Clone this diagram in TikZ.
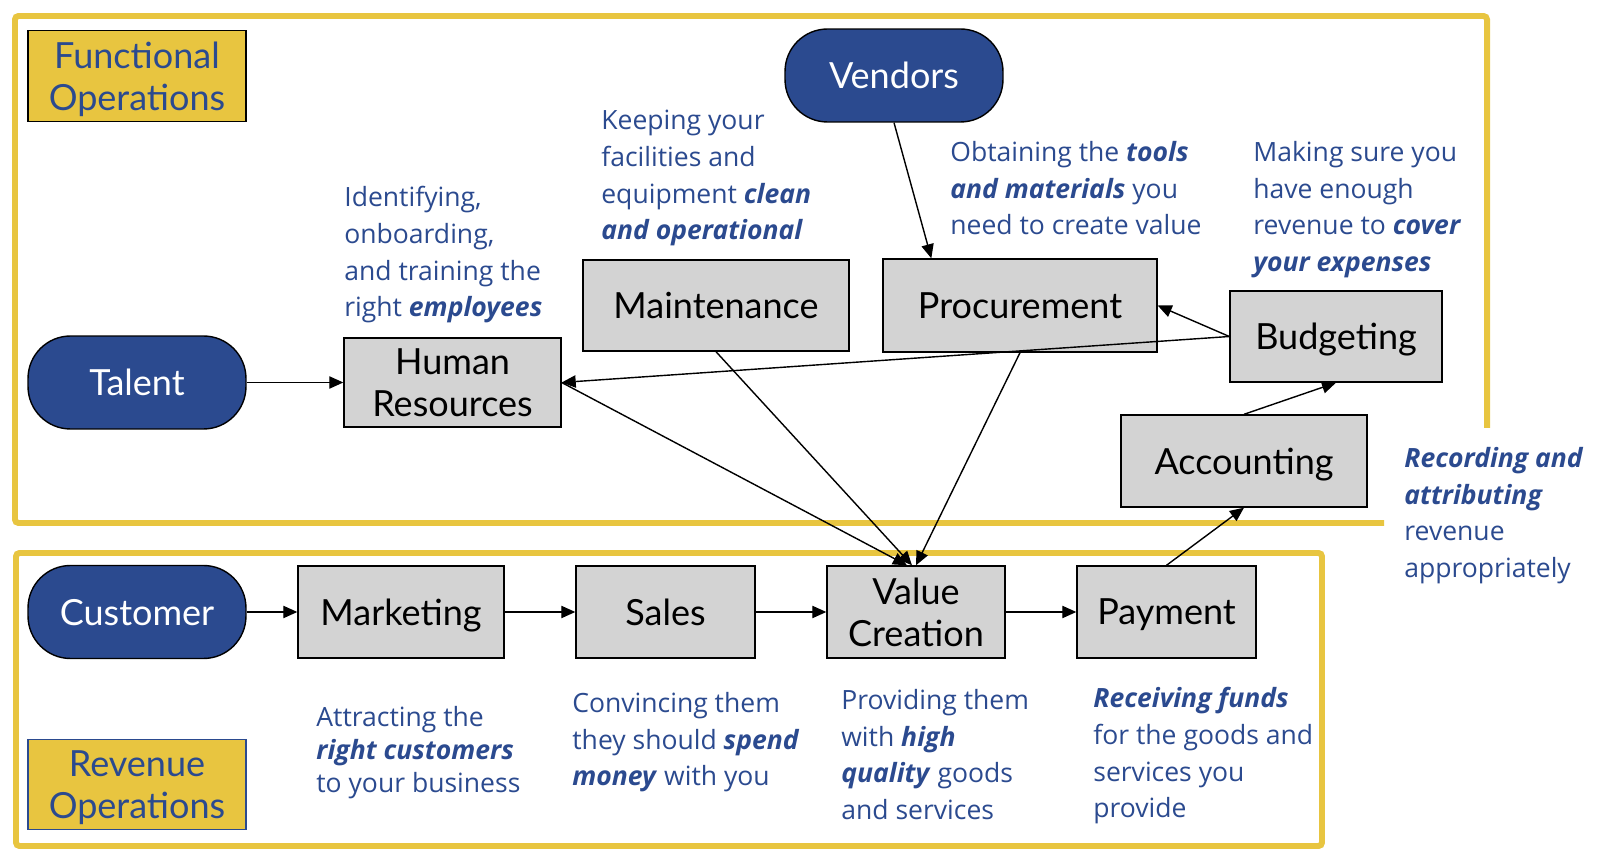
\documentclass[tikz,border=0pt]{standalone}
\usepackage{fontspec}
\setmainfont{Open Sans}
\newfontfamily\latofont{Lato}
\usepackage{tikz}
\usetikzlibrary{positioning,calc,arrows.meta}

\definecolor{opsYellow}{RGB}{232,197,64}
\definecolor{opsBlue}{RGB}{43,74,143}
\definecolor{boxGray}{RGB}{211,211,211}

\tikzset{
    procBox/.style = {draw = black, line width = 0.8pt, fill = boxGray, align = center, inner sep = 0pt,
                      text depth = 0pt, font = \latofont\fontsize{20.5}{24}\selectfont},
    pill/.style = {draw = black, line width = 0.8pt, fill = opsBlue, text = white, rounded corners = 0.85cm, inner sep = 0pt,
                   text depth = 0pt, minimum width = 4.36cm, minimum height = 1.86cm, font = \latofont\fontsize{20.5}{24}\selectfont},
    opsLabel/.style = {draw = black, line width = 0.8pt, fill = opsYellow, text = opsBlue, align = center, inner sep = 0pt,
                       text depth = 0pt, minimum width = 4.36cm, minimum height = 1.81cm, font = \latofont\fontsize{20.5}{24}\selectfont},
    opsNote/.style = {text = opsBlue, align = left, anchor = north west, inner sep = 0pt,
                      font = \fontsize{15.1}{20.9}\selectfont},
    flowArrow/.style = {line width = 0.8pt, -{Triangle[length = 8pt, width = 7pt]}},
    opsFrame/.style = {opsYellow, line width = 3.4pt, rounded corners = 2pt},
}

\begin{document}
\begin{tikzpicture}[x = 0.02cm, y = -0.02cm]

    \useasboundingbox (0, 0) rectangle (1600, 857);

    % draw yellow frames
    \draw[opsFrame] (1487, 428) -- (1487, 16) -- (15, 16) -- (15, 523) -- (1384, 523);
    \draw[opsFrame] (16, 553) rectangle (1322, 846);

    % section labels
    \node[opsLabel] (funcOps) at (137, 76) {Functional\\Operations};
    \node[opsLabel, draw = opsBlue] (revOps) at (137, 784.5) {Revenue\\Operations};

    % outside parties
    \node[pill] (vendors) at (894, 75.5) {Vendors};
    \node[pill] (talent) at (137, 382.5) {Talent};
    \node[pill] (customer) at (137, 612) {Customer};

    % functional boxes
    \node[procBox, minimum width = 4.34cm, minimum height = 1.78cm] (hr) at (452.5, 382.5) {Human\\Resources};
    \node[procBox, minimum width = 5.32cm, minimum height = 1.82cm] (maint) at (716, 305.5) {Maintenance};
    \node[procBox, minimum width = 5.48cm, minimum height = 1.86cm] (proc) at (1020, 305.5) {Procurement};
    \node[procBox, minimum width = 4.24cm, minimum height = 1.82cm] (budget) at (1336, 336.5) {Budgeting};
    \node[procBox, minimum width = 4.92cm, minimum height = 1.84cm] (acct) at (1244, 461) {Accounting};

    % revenue boxes
    \node[procBox, minimum width = 4.12cm, minimum height = 1.84cm] (mkt) at (401, 612) {Marketing};
    \node[procBox, minimum width = 3.58cm, minimum height = 1.84cm] (sales) at (665.5, 612) {Sales};
    \node[procBox, minimum width = 3.56cm, minimum height = 1.84cm] (valCre) at (916, 612) {Value\\Creation};
    \node[procBox, minimum width = 3.58cm, minimum height = 1.84cm] (pay) at (1166.5, 612) {Payment};

    % notes
    \node[opsNote] (hrNote) at (344, 186) {Identifying,\\onboarding,\\and training the\\right \textbf{\textit{employees}}};
    \node[opsNote] (maintNote) at (601, 110) {Keeping your\\facilities and\\equipment \textbf{\textit{clean}}\\\textbf{\textit{and operational}}};
    \node[opsNote] (procNote) at (950, 141) {Obtaining the \textbf{\textit{tools}}\\\textbf{\textit{and materials}} you\\need to create value};
    \node[opsNote] (budgetNote) at (1253, 141) {Making sure you\\have enough\\revenue to \textbf{\textit{cover}}\\\textbf{\textit{your expenses}}};
    \node[opsNote] (acctNote) at (1404, 447) {\textbf{\textit{Recording and}}\\\textbf{\textit{attributing}}\\revenue\\appropriately};
    \node[opsNote, font = \fontsize{15.1}{18.9}\selectfont] (mktNote) at (316, 706) {Attracting the\\\textbf{\textit{right customers}}\\to your business};
    \node[opsNote] (salesNote) at (572, 692) {Convincing them\\they should \textbf{\textit{spend}}\\\textbf{\textit{money}} with you};
    \node[opsNote] (valCreNote) at (841, 689) {Providing them\\with \textbf{\textit{high}}\\\textbf{\textit{quality}} goods\\and services};
    \node[opsNote] (payNote) at (1093, 687) {\textbf{\textit{Receiving funds}}\\for the goods and\\services you\\provide};

    % draw revenue chain
    \foreach \a/\b in {customer/mkt, mkt/sales, sales/valCre, valCre/pay} {
        \draw[flowArrow] (\a) -- (\b);
    }

    % draw functional links
    \draw[flowArrow] (talent) -- (hr);
    \draw[flowArrow] (vendors.south) -- ($(proc.north west) + (49, 0)$);
    \draw[flowArrow] (budget.west) -- (proc.east);
    \draw[flowArrow] (budget.west) -- (hr.east);
    \draw[flowArrow] (hr.east) -- ($(valCre.north) + (-9, 0)$);
    \draw[flowArrow] (maint.south) -- ($(valCre.north) + (-4, 0)$);
    \draw[flowArrow] (proc.south) -- (valCre.north);
    \draw[flowArrow] (acct.north) -- (budget.south);
    \draw[flowArrow] (pay.north) -- (acct.south);

\end{tikzpicture}
\end{document}
